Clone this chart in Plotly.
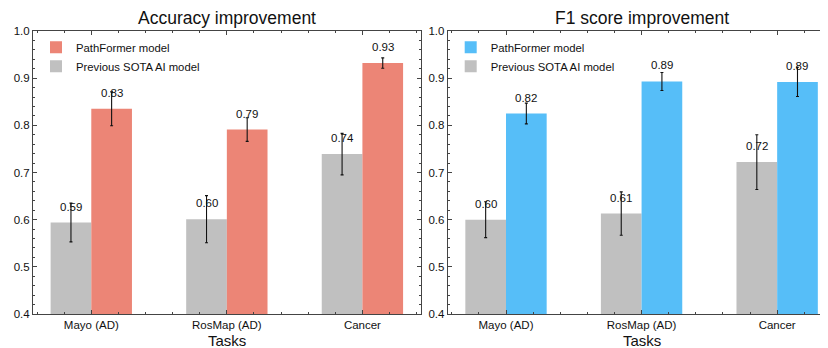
import plotly.graph_objects as go

tasks = ["Mayo (AD)", "RosMap (AD)", "Cancer"]
x_pos = [0, 1, 2]

acc_prev = [0.594, 0.601, 0.739]
acc_prev_err = [0.041, 0.050, 0.044]
acc_path = [0.835, 0.791, 0.932]
acc_path_err = [0.036, 0.025, 0.011]

f1_prev = [0.600, 0.613, 0.722]
f1_prev_err = [0.038, 0.046, 0.058]
f1_path = [0.825, 0.893, 0.892]
f1_path_err = [0.022, 0.019, 0.031]

titles = ["Accuracy improvement", "F1 score improvement"]
x_title = "Tasks"
y_ticks = [0.4, 0.5, 0.6, 0.7, 0.8, 0.9, 1.0]

GRAY = "#C0C0C0"
RED = "#EC8576"
BLUE = "#56BEF8"
FONT = "Liberation Sans, Arial, Helvetica, sans-serif"
BW = 0.3

# page body has an 8px default margin, so the figure is 8px smaller
W, H = 820, 340
ml, mr, mt, mb = 25, 0, 23, 34
pw = W - ml - mr
ph = H - mt - mb

fig = go.Figure()

panels = [
    (acc_prev, acc_prev_err, acc_path, acc_path_err, RED, "x", "y", "legend"),
    (f1_prev, f1_prev_err, f1_path, f1_path_err, BLUE, "x2", "y2", "legend2"),
]

annotations = []
for prev, prev_e, path, path_e, col, xa, ya, lg in panels:
    fig.add_trace(go.Bar(
        x=x_pos, y=prev, width=BW, offset=-BW, marker_color=GRAY,
        marker_line_width=0, name="Previous SOTA AI model",
        error_y=dict(type="data", array=prev_e, color="#111", thickness=1.1, width=1.5),
        xaxis=xa, yaxis=ya, legend=lg, legendrank=2,
    ))
    fig.add_trace(go.Bar(
        x=x_pos, y=path, width=BW, offset=0, marker_color=col,
        marker_line_width=0, name="PathFormer model",
        error_y=dict(type="data", array=path_e, color="#111", thickness=1.1, width=1.5),
        xaxis=xa, yaxis=ya, legend=lg, legendrank=1,
    ))
    for xi, v in zip(x_pos, prev):
        annotations.append(dict(x=xi - BW / 2, y=v, xref=xa, yref=ya, text=f"{v:.2f}",
                                showarrow=False, xanchor="center", yanchor="middle", yshift=16,
                                font=dict(size=11.5, color="#111", family=FONT)))
    for xi, v in zip(x_pos, path):
        annotations.append(dict(x=xi + BW / 2, y=v, xref=xa, yref=ya, text=f"{v:.2f}",
                                showarrow=False, xanchor="center", yanchor="middle", yshift=16,
                                font=dict(size=11.5, color="#111", family=FONT)))

dom1 = [0, (412.7 - ml) / pw]
dom2 = [(439.7 - ml) / pw, 1]

title_cx = [218.9, 634.3]
xlabel_cx = [218.7, 633.7]
for i, t in enumerate(titles):
    annotations.append(dict(x=(title_cx[i] - ml) / pw, y=1, xref="paper", yref="paper",
                            xanchor="center", yanchor="middle", yshift=12.7,
                            text=t, showarrow=False,
                            font=dict(size=17.5, color="#111", family=FONT)))
    annotations.append(dict(x=(xlabel_cx[i] - ml) / pw, y=0, xref="paper", yref="paper",
                            xanchor="center", yanchor="middle", yshift=-26.7,
                            text=x_title, showarrow=False,
                            font=dict(size=15, color="#111", family=FONT)))

axis_common = dict(
    showline=True, linecolor="#444", linewidth=1,
    ticks="inside", ticklen=4, tickcolor="#444", tickwidth=1,
    showgrid=False, zeroline=False,
    tickfont=dict(size=11.5, color="#111", family=FONT),
)
xminor = dict(dtick=0.2, ticks="inside", ticklen=2, tickcolor="#444")
yminor = dict(dtick=0.02, ticks="inside", ticklen=2, tickcolor="#444")
ytext = [f"{v:.1f}" for v in y_ticks]

leg_y = 1 - 1.7 / ph

fig.update_layout(
    width=W, height=H,
    margin=dict(l=ml, r=mr, t=mt, b=mb, autoexpand=False),
    plot_bgcolor="white", paper_bgcolor="white",
    barmode="overlay",
    annotations=annotations,
    xaxis=dict(domain=dom1, range=[-0.43, 2.43], tickvals=x_pos, ticktext=tasks,
               mirror="allticks", anchor="y", minor=xminor, **axis_common),
    yaxis=dict(domain=[0, 1], range=[0.4, 1.0], tickvals=y_ticks, ticktext=ytext,
               mirror="allticks", anchor="x", minor=yminor, **axis_common),
    xaxis2=dict(domain=dom2, range=[-0.43, 2.375], tickvals=x_pos, ticktext=tasks,
                mirror="allticks", anchor="y2", minor=xminor, **axis_common),
    yaxis2=dict(domain=[0, 1], range=[0.4, 1.0], tickvals=y_ticks, ticktext=ytext,
                mirror=False, anchor="x2", minor=yminor, **axis_common),
    legend=dict(x=(28 - ml) / pw, y=leg_y, xanchor="left", yanchor="top",
                bgcolor="rgba(0,0,0,0)", font=dict(size=11.3, color="#111", family=FONT),
                tracegroupgap=0),
    legend2=dict(x=(442.7 - ml) / pw, y=leg_y, xanchor="left", yanchor="top",
                 bgcolor="rgba(0,0,0,0)", font=dict(size=11.3, color="#111", family=FONT),
                 tracegroupgap=0),
    showlegend=True,
)

fig.write_html("out.html")
